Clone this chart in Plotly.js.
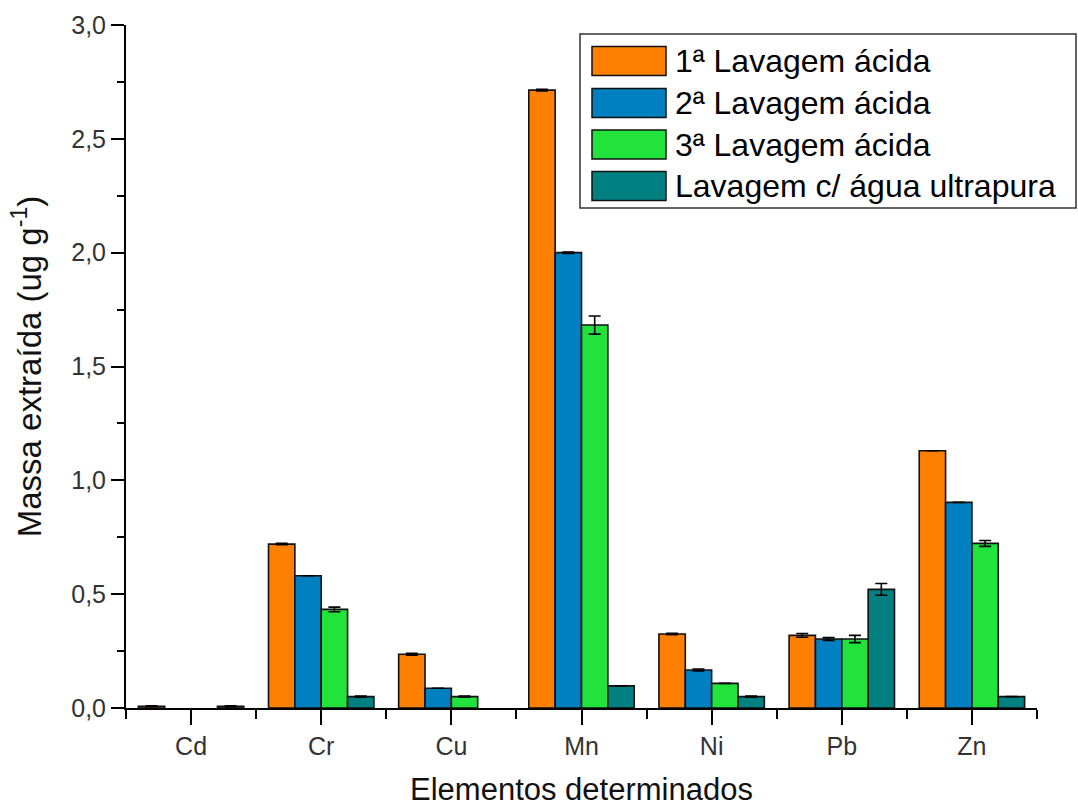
<!DOCTYPE html>
<html>
<head>
<meta charset="utf-8">
<script src="https://cdn.plot.ly/plotly-3.0.1.min.js"></script>
<style>
  html, body { margin: 0; padding: 0; background: #fff; }
  #chart { width: 1078px; height: 807px; }
</style>
</head>
<body>
<div id="chart"></div>
<script>
// Elements analysed
const elements = ['Cd', 'Cr', 'Cu', 'Mn', 'Ni', 'Pb', 'Zn'];

// Extracted mass (ug g-1) per washing step (null = not detected)
const lavagem1 = [0.008, 0.720, 0.236, 2.714, 0.325, 0.319, 1.130];
const lavagem2 = [null, 0.581, 0.087, 2.000, 0.167, 0.303, 0.903];
const lavagem3 = [null, 0.433, 0.050, 1.682, 0.108, 0.303, 0.723];
const lavagemAgua = [0.008, 0.050, null, 0.097, 0.050, 0.521, 0.050];

// Standard deviations
const erro1 = [0.002, 0.003, 0.004, 0.004, 0.003, 0.008, 0];
const erro2 = [0, 0, 0, 0.003, 0.004, 0.006, 0];
const erro3 = [0, 0.010, 0.003, 0.040, 0, 0.016, 0.013];
const erroAgua = [0.002, 0.003, 0, 0, 0.003, 0.026, 0];

const seriesNames = ['1ª Lavagem ácida', '2ª Lavagem ácida', '3ª Lavagem ácida', 'Lavagem c/ água ultrapura'];
const seriesColors = ['#FF8000', '#0080C0', '#22E23C', '#008080'];

const seriesValues = [lavagem1, lavagem2, lavagem3, lavagemAgua];
const seriesErrors = [erro1, erro2, erro3, erroAgua];

const xIdx = elements.map((_, i) => i);

const traces = seriesValues.map((vals, k) => ({
  type: 'bar',
  name: seriesNames[k],
  x: xIdx,
  y: vals,
  marker: { color: seriesColors[k], line: { color: '#111', width: 1.6 } },
  error_y: { type: 'data', array: seriesErrors[k], visible: true, color: '#000', thickness: 1.6, width: 6 },
  showlegend: false
}));

// Legend box drawn in paper coordinates
const plotL = 126, plotR = 1037, plotT = 25, plotB = 708;
const pw = plotR - plotL, ph = plotB - plotT;
const px = v => (v - plotL) / pw;
const py = v => (plotB - v) / ph;

const shapes = [{
  type: 'rect', xref: 'paper', yref: 'paper',
  x0: px(580), x1: px(1076), y0: py(208), y1: py(34),
  line: { color: '#333', width: 1.5 }, fillcolor: 'rgba(0,0,0,0)'
}];
const annotations = [];
const rowCenters = [61, 103, 144.5, 186];
seriesNames.forEach((name, k) => {
  const c = rowCenters[k];
  shapes.push({
    type: 'rect', xref: 'paper', yref: 'paper',
    x0: px(592), x1: px(666), y0: py(c + 14.5), y1: py(c - 14.5),
    line: { color: '#111', width: 1.5 }, fillcolor: seriesColors[k]
  });
  annotations.push({
    xref: 'paper', yref: 'paper', x: px(673), y: py(c),
    xanchor: 'left', yanchor: 'middle', showarrow: false,
    text: name, font: { family: 'Liberation Sans, Arial, sans-serif', size: 32, color: '#000' }
  });
});

const layout = {
  width: 1078, height: 807,
  margin: { l: plotL, r: 1078 - plotR, t: plotT, b: 807 - plotB },
  paper_bgcolor: '#fff', plot_bgcolor: '#fff',
  separators: ',.',
  barmode: 'group', bargap: 0.19, bargroupgap: 0,
  font: { family: 'Liberation Sans, Arial, sans-serif', color: '#333' },
  xaxis: {
    range: [-0.5, 6.5], tickmode: 'array', tickvals: xIdx, ticktext: elements,
    showgrid: false, zeroline: false, showline: true, linecolor: '#000', linewidth: 2,
    ticks: 'outside', ticklen: 15, tickwidth: 2, tickcolor: '#000',
    tickfont: { size: 25, color: '#333' },
    minor: { tickmode: 'linear', tick0: 0.5, dtick: 1, ticks: 'outside', ticklen: 9, tickwidth: 2, tickcolor: '#000', showgrid: false },
    title: { text: 'Elementos determinados', font: { size: 31, color: '#111' }, standoff: 20 },
    automargin: false
  },
  yaxis: {
    range: [0, 3], dtick: 0.5, tick0: 0, tickformat: '.1f',
    showgrid: false, zeroline: false, showline: true, linecolor: '#000', linewidth: 2,
    ticks: 'outside', ticklen: 13, tickwidth: 2, tickcolor: '#000',
    tickfont: { size: 25, color: '#333' },
    minor: { dtick: 0.25, ticks: 'outside', ticklen: 7, tickwidth: 2, tickcolor: '#000', showgrid: false },
    title: { text: 'Massa extraída (ug g<sup>-1</sup>)', font: { size: 33, color: '#111' }, standoff: 20 },
    automargin: false
  },
  shapes: shapes,
  annotations: annotations,
  showlegend: false
};

Plotly.newPlot('chart', traces, layout, { displayModeBar: false, staticPlot: true });
</script>
</body>
</html>
